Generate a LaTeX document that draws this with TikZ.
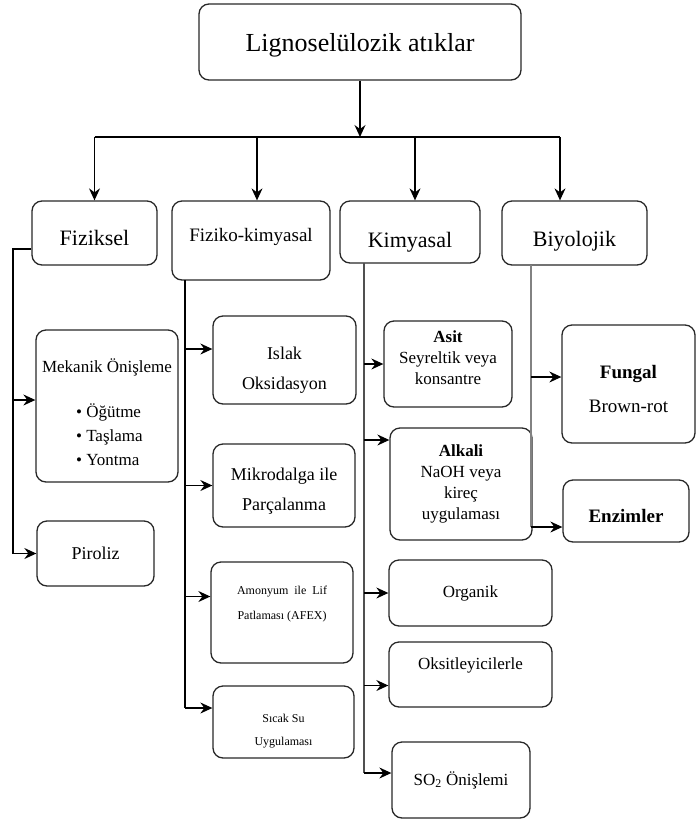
\documentclass[tikz,border=0pt]{standalone}
\usepackage{fontspec}
\setmainfont{Liberation Serif}
\usetikzlibrary{arrows.meta, positioning, calc}
\definecolor{boxline}{RGB}{40, 40, 40}
\definecolor{midline}{RGB}{80, 80, 80}
\definecolor{lightline}{RGB}{130, 130, 130}

\begin{document}
\begin{tikzpicture}[x=1pt, y=-1pt,
		box/.style={rectangle, rounded corners=10pt, draw=boxline, line width=1.3pt, align=center, inner sep=2pt},
		arr/.style={-{Stealth[length=12pt, width=11pt, inset=4pt]}, line width=1.2pt},
		conn/.style={line width=1.2pt}
		]
		\useasboundingbox (0,0) rectangle (696,823);
		
		% Top level
		\node[box, minimum width=322pt, minimum height=76pt, text height=24pt, text depth=6pt, font=\fontsize{26}{30}\selectfont] (top) at (360, 42) {Lignoselülozik atıklar};
		
		% Second level
		\node[box, minimum width=125pt, minimum height=64pt, text height=25pt, text depth=0pt, font=\fontsize{22}{26}\selectfont] (fiziksel) at (94.5, 233) {Fiziksel};
		\node[box, minimum width=158pt, minimum height=79pt, text depth=12pt, font=\fontsize{19}{23}\selectfont] (fizkim) at (251, 240.5) {Fiziko-kimyasal};
		\node[box, minimum width=140pt, minimum height=62pt, text height=30pt, text depth=0pt, font=\fontsize{22}{26}\selectfont] (kimyasal) at (410, 232) {Kimyasal};
		\node[box, minimum width=145pt, minimum height=64pt, text height=26pt, text depth=0pt, font=\fontsize{22}{26}\selectfont] (biyolojik) at (574.5, 233) {Biyolojik};
		
		% Fiziksel
		\node[box, minimum width=142pt, minimum height=152pt, align=left, font=\fontsize{17}{24}\selectfont] (mekanik) at (107, 406) {\rule{0pt}{27pt}Mekanik Önişleme\\[21pt]\hspace*{34pt}\textbullet\ Öğütme\\\hspace*{34pt}\textbullet\ Taşlama\\\hspace*{34pt}\textbullet\ Yontma};
		\node[box, minimum width=117pt, minimum height=65pt, font=\fontsize{18}{22}\selectfont] (piroliz) at (95.5, 553.5) {Piroliz};
		
		% Fiziko-kimyasal
		\node[box, minimum width=143pt, minimum height=88pt, font=\fontsize{18}{30}\selectfont] (islak) at (284.5, 360) {\rule{0pt}{33pt}Islak\\Oksidasyon};
		\node[box, minimum width=142pt, minimum height=83pt, font=\fontsize{18}{30}\selectfont] (mikro) at (284, 485.5) {\rule{0pt}{23pt}Mikrodalga ile\\Parçalanma};
		\node[box, minimum width=142pt, minimum height=101pt, text depth=20pt, font=\fontsize{12}{25}\selectfont] (amonyum) at (282, 612.5) {Amonyum\ \ ile\ \ Lif\\Patlaması (AFEX)};
		\node[box, minimum width=141pt, minimum height=72pt, font=\fontsize{12}{23}\selectfont] (sicak) at (283.5, 722) {\rule{0pt}{27pt}Sıcak Su\\Uygulaması};
		
		% Kimyasal
		\node[box, minimum width=128pt, minimum height=86pt, font=\fontsize{17}{21}\selectfont] (asit) at (448, 364) {\textbf{Asit}\\Seyreltik veya\\konsantre\rule[-12pt]{0pt}{0pt}};
		\node[box, minimum width=142pt, minimum height=112pt, font=\fontsize{17}{21}\selectfont] (alkali) at (461, 484) {\textbf{Alkali}\\NaOH veya\\kireç\\uygulaması};
		\node[box, minimum width=163pt, minimum height=66pt, font=\fontsize{17}{21}\selectfont] (organik) at (470.5, 593) {Organik};
		\node[box, minimum width=163pt, minimum height=65pt, text depth=22pt, font=\fontsize{17}{21}\selectfont] (oksit) at (470.5, 674.5) {Oksitleyicilerle};
		\node[box, minimum width=138pt, minimum height=76pt, font=\fontsize{17}{21}\selectfont] (so2) at (461, 780) {SO\textsubscript{2} Önişlemi};
		
		% Biyolojik
		\node[box, minimum width=133pt, minimum height=118pt, font=\fontsize{19}{34}\selectfont] (fungal) at (628.5, 384) {\rule{0pt}{23pt}\textbf{Fungal}\\Brown-rot};
		\node[box, minimum width=126pt, minimum height=62pt, text height=23pt, text depth=0pt, font=\fontsize{19}{23}\selectfont\bfseries] (enzim) at (626, 511) {Enzimler};
		
		% Main branch
		\coordinate (bus) at (360, 137);
		\draw[arr] (top) -- (bus);
		\draw[conn] (fiziksel.north |- bus) -- ([xshift=-14.5pt]biyolojik.north |- bus);
		\draw[arr] (fiziksel.north |- bus) -- (fiziksel.north);
		\draw[arr] ([xshift=6pt]fizkim.north |- bus) -- ([xshift=6pt]fizkim.north);
		\draw[arr] ([xshift=5pt]kimyasal.north |- bus) -- ([xshift=5pt]kimyasal.north);
		\draw[arr] ([xshift=-14.5pt]biyolojik.north |- bus) -- ([xshift=-14.5pt]biyolojik.north);
		
		% Fiziksel branch
		\coordinate (fzk) at (13, 249);
		\draw[conn] (fiziksel.west |- fzk) -- (fzk) -- (fzk |- piroliz.west);
		\draw[arr] ([yshift=6pt]mekanik.west -| fzk) -- ([yshift=6pt]mekanik.west);
		\draw[arr] (piroliz.west -| fzk) -- (piroliz.west);
		
		% Fiziko-kimyasal branch
		\coordinate (fkk) at (185, 280);
		\draw[conn] (fkk) -- ([yshift=14pt]sicak.west -| fkk);
		\draw[arr] ([yshift=11pt]islak.west -| fkk) -- ([yshift=11pt]islak.west);
		\draw[arr] (mikro.west -| fkk) -- (mikro.west);
		\draw[arr] ([yshift=16pt]amonyum.west -| fkk) -- ([yshift=16pt]amonyum.west);
		\draw[arr] ([yshift=14pt]sicak.west -| fkk) -- ([yshift=14pt]sicak.west);
		
		% Kimyasal branch
		\coordinate (kmk) at (364, 263);
		\draw[conn, draw=midline] (kmk) -- ([yshift=7pt]so2.west -| kmk);
		\draw[arr] (asit.west -| kmk) -- (asit.west);
		\draw[arr] ([yshift=44pt]alkali.west -| kmk) -- ([yshift=44pt]alkali.west);
		\draw[arr] (organik.west -| kmk) -- (organik.west);
		\draw[arr] ([yshift=-11pt]oksit.west -| kmk) -- ([yshift=-11pt]oksit.west);
		\draw[arr] ([yshift=7pt]so2.west -| kmk) -- ([yshift=7pt]so2.west);
		
		% Biyolojik branch
		\coordinate (byk) at (531, 265);
		\draw[conn, draw=lightline] (byk) -- ([yshift=-16pt]enzim.west -| byk);
		\draw[arr] ([yshift=7pt]fungal.west -| byk) -- ([yshift=7pt]fungal.west);
		\draw[arr] ([yshift=-16pt]enzim.west -| byk) -- ([yshift=-16pt]enzim.west);
	\end{tikzpicture}
\end{document}
